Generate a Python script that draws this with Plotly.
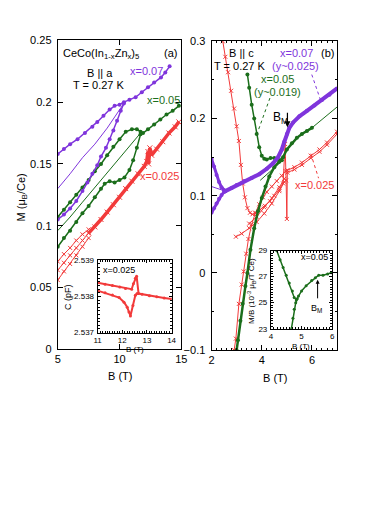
import plotly.graph_objects as go

W, H = 374, 529
PURPLE = "#7f35dc"
GREEN = "#1b6e1b"
RED = "#f23a3a"
FONT = "Liberation Sans"

# ---------------- panel (a): B || a ----------------
a_pur_up_B = [5.0, 5.5, 6.0, 6.6, 7.2, 7.8, 8.2, 8.7, 9.2, 9.6, 10.0, 10.35, 10.8, 11.3, 11.8, 12.3, 12.8, 13.35, 13.7, 14.05]
a_pur_up_M = [0.158, 0.162, 0.166, 0.170, 0.175, 0.180, 0.184, 0.189, 0.194, 0.197, 0.198, 0.200, 0.202, 0.204, 0.208, 0.212, 0.216, 0.220, 0.224, 0.229]
a_pur_dn_B = [5.0, 5.5, 6.0, 6.5, 7.0, 7.4, 7.8, 8.2, 8.5, 8.9, 9.2, 9.5, 9.8, 10.1, 10.35]
a_pur_dn_M = [0.105, 0.109, 0.114, 0.120, 0.128, 0.135, 0.142, 0.149, 0.156, 0.163, 0.170, 0.177, 0.185, 0.193, 0.199]
a_pur_thin_B = [5.0, 6.0, 7.0, 8.0, 9.0, 9.7, 10.35]
a_pur_thin_M = [0.130, 0.142, 0.155, 0.166, 0.179, 0.189, 0.199]

a_grn_up_B = [5.0, 5.5, 6.0, 6.5, 7.0, 7.5, 8.0, 8.5, 9.0, 9.5, 10.0, 10.5, 11.0, 11.4, 11.7, 11.9, 12.3, 12.8, 13.3, 13.8, 14.3, 14.8]
a_grn_up_M = [0.107, 0.113, 0.119, 0.125, 0.131, 0.137, 0.144, 0.150, 0.157, 0.164, 0.170, 0.176, 0.178, 0.178, 0.176, 0.175, 0.178, 0.182, 0.186, 0.190, 0.193, 0.197]
a_grn_thin_B = [5.0, 6.0, 7.0, 8.0, 9.0, 10.0, 10.5, 11.0, 11.3, 11.7]
a_grn_thin_M = [0.096, 0.107, 0.119, 0.131, 0.143, 0.155, 0.161, 0.167, 0.171, 0.175]
a_grn_dn_B = [5.0, 5.5, 6.0, 6.5, 7.0, 7.5, 8.0, 8.5, 8.8, 9.2, 9.6, 10.0, 10.4, 10.8, 11.1, 11.4, 11.7]
a_grn_dn_M = [0.083, 0.090, 0.096, 0.103, 0.110, 0.116, 0.123, 0.130, 0.134, 0.136, 0.135, 0.137, 0.139, 0.145, 0.153, 0.163, 0.174]

a_red1_B = [5.0, 5.5, 6.0, 6.5, 7.0, 7.5]
a_red1_M = [0.071, 0.077, 0.082, 0.088, 0.093, 0.097]
a_red2_B = [5.0, 5.5, 6.0, 6.5, 7.0, 7.5]
a_red2_M = [0.064, 0.070, 0.076, 0.082, 0.088, 0.094]
a_red3_B = [5.0, 5.5, 6.0, 6.5, 7.0, 7.5]
a_red3_M = [0.056, 0.063, 0.069, 0.076, 0.083, 0.090]
a_redband_B = [7.5, 8.0, 8.5, 9.0, 9.5, 10.0, 10.5, 11.0, 11.5, 12.0, 12.2, 12.3, 12.35, 12.45, 12.6, 13.0, 13.5, 14.0, 14.5, 14.8]
a_redband_M = [0.094, 0.099, 0.105, 0.111, 0.117, 0.123, 0.130, 0.136, 0.142, 0.148, 0.152, 0.160, 0.150, 0.163, 0.157, 0.162, 0.168, 0.175, 0.180, 0.184]

# ---------------- panel (b): B || c ----------------
b_pur_main_B = [2.55, 2.8, 3.0, 3.3, 3.6, 3.9, 4.2, 4.45, 4.65, 4.8, 4.9, 5.0, 5.1, 5.25, 5.5, 5.8, 6.1, 6.4, 6.7, 7.0]
b_pur_main_M = [0.106, 0.110, 0.114, 0.119, 0.123, 0.128, 0.135, 0.142, 0.150, 0.160, 0.170, 0.180, 0.188, 0.195, 0.203, 0.210, 0.217, 0.224, 0.231, 0.239]
b_pur_a_B = [2.0, 2.1, 2.2, 2.3, 2.4, 2.5, 2.55]
b_pur_a_M = [0.148, 0.138, 0.127, 0.118, 0.111, 0.107, 0.106]
b_pur_b_B = [2.0, 2.1, 2.2, 2.3, 2.4, 2.5]
b_pur_b_M = [0.078, 0.084, 0.090, 0.096, 0.101, 0.105]
b_pur_thin_B = [2.0, 2.3, 2.55]
b_pur_thin_M = [0.112, 0.109, 0.106]

b_grn_dn_B = [3.43, 3.5, 3.6, 3.7, 3.8, 3.9, 4.0, 4.1, 4.2, 4.35, 4.5, 4.65, 4.8]
b_grn_dn_M = [0.257, 0.240, 0.218, 0.200, 0.180, 0.163, 0.152, 0.148, 0.147, 0.149, 0.149, 0.147, 0.146]
b_grn_up_B = [3.0, 3.05, 3.15, 3.24, 3.35, 3.43, 3.55, 3.7, 3.85, 4.0, 4.15, 4.3, 4.5, 4.7, 4.85, 5.0, 5.2, 5.4, 5.6, 5.8, 6.0]
b_grn_up_M = [-0.10, -0.087, -0.062, -0.040, -0.017, 0.0, 0.030, 0.058, 0.080, 0.097, 0.112, 0.125, 0.137, 0.144, 0.150, 0.160, 0.168, 0.175, 0.180, 0.184, 0.188]
b_grn_ext_B = [6.0, 7.0]
b_grn_ext_M = [0.188, 0.215]
b_grn_thin_B = [3.94, 4.3, 4.8]
b_grn_thin_M = [0.120, 0.131, 0.145]

b_red_main_B = [2.45, 2.55, 2.66, 2.78, 2.9, 3.0, 3.09, 3.17, 3.24, 3.33, 3.43, 3.53, 3.63, 3.75, 3.94, 4.13, 4.33, 4.5, 4.7, 4.85, 4.93, 4.97, 5.0, 5.02]
b_red_main_M = [0.300, 0.280, 0.260, 0.236, 0.213, 0.190, 0.171, 0.140, 0.116, 0.098, 0.084, 0.078, 0.076, 0.077, 0.082, 0.087, 0.093, 0.100, 0.108, 0.116, 0.167, 0.120, 0.070, 0.133]
b_red_hi1_B = [5.02, 5.3, 5.6, 5.95, 6.3, 6.6, 7.0]
b_red_hi1_M = [0.133, 0.137, 0.143, 0.152, 0.160, 0.169, 0.183]
b_red_hi2_B = [5.02, 5.3, 5.6, 5.95, 6.3, 6.6, 7.0]
b_red_hi2_M = [0.130, 0.134, 0.140, 0.149, 0.157, 0.166, 0.180]
b_red_low1_B = [2.97, 3.2, 3.5, 3.8, 4.1, 4.4, 4.7, 4.9]
b_red_low1_M = [0.047, 0.051, 0.058, 0.066, 0.077, 0.090, 0.106, 0.118]
b_red_low2_B = [3.5, 3.8, 4.1, 4.4, 4.7, 4.9]
b_red_low2_M = [0.064, 0.073, 0.085, 0.097, 0.111, 0.122]
b_red_steep_B = [2.9, 2.97, 3.09, 3.2, 3.28, 3.38, 3.47, 3.6, 3.75, 3.9, 4.05, 4.2, 4.4, 4.6, 4.8, 4.95]
b_red_steep_M = [-0.10, -0.085, -0.040, -0.015, 0.002, 0.025, 0.044, 0.063, 0.078, 0.089, 0.098, 0.105, 0.112, 0.119, 0.126, 0.132]

# ---------------- inset (a): capacitance ----------------
ia_up_B = [11.0, 11.3, 11.6, 11.9, 12.13, 12.38, 12.45, 12.53, 12.58, 12.66, 12.8, 13.1, 13.4, 13.7, 14.0]
ia_up_C = [2.53838, 2.53834, 2.53830, 2.53826, 2.53822, 2.53820, 2.53835, 2.53850, 2.53856, 2.53808, 2.53806, 2.53802, 2.53799, 2.53796, 2.53793]
ia_dn_B = [11.0, 11.3, 11.6, 11.87, 12.07, 12.2, 12.27, 12.33, 12.43, 12.53, 12.6]
ia_dn_C = [2.53816, 2.53810, 2.53804, 2.53797, 2.53784, 2.53770, 2.53757, 2.53746, 2.53775, 2.53803, 2.53808]

# ---------------- inset (b): M/B ----------------
ib_main_B = [4.19, 4.3, 4.4, 4.5, 4.6, 4.7, 4.76, 4.83, 4.9, 5.0, 5.15, 5.33, 5.45, 5.56, 5.7, 5.85, 5.97]
ib_main_Y = [29.0, 28.3, 27.7, 27.1, 26.5, 25.9, 25.4, 25.2, 25.5, 25.9, 26.3, 26.7, 26.9, 27.1, 27.1, 27.2, 27.3]
ib_low_B = [4.67, 4.72, 4.76, 4.81, 4.86]
ib_low_Y = [23.0, 23.8, 24.5, 25.0, 25.3]


def px(x):
    return x / W


def py(y):
    return 1 - y / H


fig = go.Figure()


def add(B, M, color, ax, mode="lines+markers", width=1, symbol="circle", size=4):
    marker = dict(color=color, size=size, symbol=symbol)
    if symbol.startswith("x"):
        marker = dict(color=color, size=size, symbol="x-thin", line=dict(color=color, width=1))
    fig.add_trace(go.Scatter(x=B, y=M, mode=mode, line=dict(color=color, width=width),
                             marker=marker, xaxis="x" + ax, yaxis="y" + ax,
                             showlegend=False, hoverinfo="skip", cliponaxis=True))


# panel a
add(a_red1_B, a_red1_M, RED, "", symbol="x", size=4)
add(a_red2_B, a_red2_M, RED, "", symbol="x", size=4)
add(a_red3_B, a_red3_M, RED, "", symbol="x", size=4)
add(a_redband_B, a_redband_M, RED, "", width=3.5, symbol="x", size=5)
add(a_grn_thin_B, a_grn_thin_M, GREEN, "", mode="lines", width=1)
add(a_grn_up_B, a_grn_up_M, GREEN, "", width=1.5, size=4)
add(a_grn_dn_B, a_grn_dn_M, GREEN, "", width=1.5, size=4)
add(a_pur_thin_B, a_pur_thin_M, PURPLE, "", mode="lines", width=1)
add(a_pur_up_B, a_pur_up_M, PURPLE, "", width=1.5, size=4)
add(a_pur_dn_B, a_pur_dn_M, PURPLE, "", width=1.5, size=4)

# panel b
add(b_red_low1_B, b_red_low1_M, RED, "2", symbol="x", size=4)
add(b_red_low2_B, b_red_low2_M, RED, "2", symbol="x", size=4)
add(b_red_steep_B, b_red_steep_M, RED, "2", symbol="x", size=4)
add(b_red_main_B, b_red_main_M, RED, "2", symbol="x", size=4)
add(b_red_hi1_B, b_red_hi1_M, RED, "2", symbol="x", size=4)
add(b_red_hi2_B, b_red_hi2_M, RED, "2", symbol="x", size=4)
add(b_grn_thin_B, b_grn_thin_M, GREEN, "2", mode="lines", width=1)
add(b_grn_ext_B, b_grn_ext_M, GREEN, "2", mode="lines", width=1)
add(b_grn_dn_B, b_grn_dn_M, GREEN, "2", width=1.5, size=4)
add(b_grn_up_B, b_grn_up_M, GREEN, "2", width=2.5, size=4)
add(b_pur_thin_B, b_pur_thin_M, PURPLE, "2", mode="lines", width=1)
add(b_pur_a_B, b_pur_a_M, PURPLE, "2", width=3, size=4)
add(b_pur_b_B, b_pur_b_M, PURPLE, "2", width=3, size=4)
add(b_pur_main_B, b_pur_main_M, PURPLE, "2", width=4, size=4)

# insets
add(ia_up_B, ia_up_C, RED, "3", width=2, size=3)
add(ia_dn_B, ia_dn_C, RED, "3", width=2, size=3)
add(ib_main_B, ib_main_Y, GREEN, "4", width=1.5, size=3)
add(ib_low_B, ib_low_Y, GREEN, "4", width=1.5, size=3)

tickfont = dict(family=FONT, size=11, color="black")
smallfont = dict(family=FONT, size=8, color="black")


def axis(domain, rng, dtick, anchor, font, minor=None, tick0=0, standoff=2, ticklen=5):
    d = dict(domain=domain, range=rng, dtick=dtick, tick0=tick0, anchor=anchor,
             showline=True, linecolor="black", linewidth=1, mirror="ticks",
             ticks="inside", ticklen=ticklen, tickcolor="black", showgrid=False,
             zeroline=False, tickfont=font, ticklabelstandoff=standoff)
    if minor is not None:
        d["minor"] = dict(dtick=minor, ticks="inside", ticklen=2, tickcolor="black", showgrid=False)
    return d


layout = dict(
    width=W, height=H, margin=dict(l=0, r=0, t=0, b=0),
    paper_bgcolor="white", plot_bgcolor="white", showlegend=False,
    xaxis=axis([px(47), px(174)], [5, 15], 5, "y", tickfont, standoff=0),
    yaxis=axis([py(343), py(27)], [0, 0.25], 0.05, "x", tickfont, standoff=3),
    xaxis2=axis([px(205), px(334)], [2, 7], 2, "y2", tickfont, minor=0.2, standoff=0),
    yaxis2=axis([py(344), py(28)], [-0.1, 0.3], 0.1, "x2", tickfont, minor=0.05, standoff=3),
    xaxis3=axis([px(88), px(164)], [11, 14], 1, "y3", smallfont, minor=0.1, standoff=0, ticklen=3),
    yaxis3=axis([py(326), py(252)], [2.537, 2.539], 0.001, "x3", smallfont, minor=0.0001, standoff=1, ticklen=3),
    xaxis4=axis([px(266), px(329)], [4, 6], 1, "y4", smallfont, minor=0.1, standoff=0, ticklen=3),
    yaxis4=axis([py(322), py(242)], [23, 29], 2, "x4", smallfont, minor=0.2, tick0=23, standoff=1, ticklen=3),
)
fig.update_layout(**layout)


def ann(x, y, text, color="black", size=11, xanchor="left", angle=0):
    fig.add_annotation(x=px(x), y=py(y), xref="paper", yref="paper", text=text,
                       showarrow=False, xanchor=xanchor, yanchor="middle",
                       textangle=angle, font=dict(family=FONT, size=size, color=color))


# panel a labels
ann(50, 41, "CeCo(In<sub>1-x</sub>Zn<sub>x</sub>)<sub>5</sub>")
ann(172, 40, "(a)", xanchor="right")
ann(90, 60, "B || a", xanchor="center")
ann(89, 73, "T = 0.27 K", xanchor="center")
ann(119, 58, "x=0.07", PURPLE)
ann(137, 88, "x=0.05", GREEN)
ann(129, 166, "x=0.025", RED)
ann(10, 188, "M (μ<sub>B</sub>/Ce)", angle=-90, xanchor="center")
ann(111, 370, "B (T)", xanchor="center")

# panel b labels
ann(221, 40, "B || c")
ann(206, 53, "T = 0.27 K")
ann(273, 40, "x=0.07", PURPLE)
ann(265, 53, "(y~0.025)", PURPLE)
ann(333, 40, "(b)", xanchor="right")
ann(254, 67, "x=0.05", GREEN)
ann(247, 80, "(y~0.019)", GREEN)
ann(289, 175, "x=0.025", RED)
ann(266, 106, "B<sub>M</sub>", size=12)
ann(270, 372, "B (T)", xanchor="center")

# inset labels
ann(91, 262, "x=0.025", size=9)
ann(58, 289, "C (pF)", size=9, angle=-90, xanchor="center")
ann(126, 343, "B (T)", size=8, xanchor="center")
ann(327, 249, "x=0.05", size=9, xanchor="right")
ann(313, 301, "B<sub>M</sub>", size=9, xanchor="center")
ann(246, 283, "M/B (10<sup>-3</sup> μ<sub>B</sub>/T Ce)", size=8, angle=-90, xanchor="center")
ann(297, 340, "B (T)", size=8, xanchor="center")

# arrows
fig.add_annotation(x=px(283), y=py(116), xref="paper", yref="paper", ax=0, ay=-16,
                   showarrow=True, arrowhead=2, arrowsize=1, arrowwidth=1.2, arrowcolor="black", text="")
fig.add_annotation(x=px(314), y=py(272), xref="paper", yref="paper", ax=0, ay=20,
                   showarrow=True, arrowhead=2, arrowsize=0.8, arrowwidth=1, arrowcolor="black", text="")

# dotted leader lines (panel b)
for (x0, y0, x1, y1, c) in [(308, 62, 317, 88, PURPLE), (265, 86, 252, 122, GREEN), (307, 143, 315, 168, RED)]:
    fig.add_shape(type="line", xref="paper", yref="paper", x0=px(x0), y0=py(y0), x1=px(x1), y1=py(y1),
                  line=dict(color=c, width=1, dash="dot"))

fig.write_html("out.html")
